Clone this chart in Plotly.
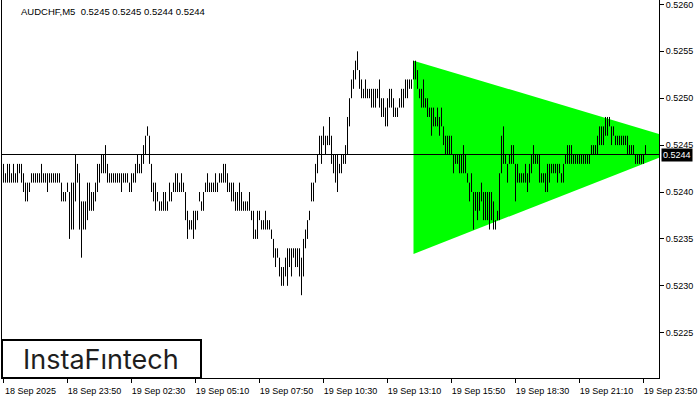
import pandas as pd
import plotly.graph_objects as go

# ---------------- data ----------------
header_text = "AUDCHF,M5  0.5245 0.5245 0.5244 0.5244"
bar_start = "2025-09-18 21:10"
bar_freq = "5min"

# bar highs / lows, in units of 0.0001 (5243 -> 0.5243)
high_pts = [
    5243, 5242, 5243, 5243, 5242, 5243, 5242, 5243, 5243, 5243,
    5242, 5241, 5241, 5241, 5242, 5242, 5242, 5242, 5242, 5243,
    5242, 5242, 5242, 5242, 5242, 5242, 5242, 5242, 5242, 5241,
    5240, 5240, 5241, 5240, 5241, 5241, 5244, 5243, 5242, 5239,
    5239, 5239, 5241, 5241, 5240, 5240, 5241, 5243, 5243, 5244,
    5244, 5245, 5243, 5242, 5242, 5242, 5242, 5242, 5242, 5242,
    5242, 5242, 5242, 5241, 5242, 5242, 5243, 5244, 5243, 5244,
    5245, 5246, 5247, 5246, 5243, 5241, 5241, 5240, 5239, 5239,
    5240, 5240, 5239, 5241, 5240, 5241, 5242, 5242, 5241, 5242,
    5241, 5240, 5238, 5237, 5237, 5238, 5238, 5238, 5240, 5239,
    5240, 5241, 5242, 5241, 5241, 5241, 5242, 5241, 5242, 5242,
    5243, 5243, 5242, 5241, 5241, 5241, 5240, 5240, 5241, 5240,
    5239, 5239, 5239, 5240, 5238, 5238, 5236, 5238, 5238, 5237,
    5237, 5238, 5237, 5237, 5236, 5235, 5234, 5234, 5233, 5232,
    5232, 5233, 5234, 5234, 5234, 5234, 5234, 5234, 5234, 5233,
    5235, 5236, 5237, 5238, 5241, 5241, 5243, 5244, 5246, 5246,
    5247, 5246, 5246, 5248, 5246, 5244, 5244, 5244, 5243, 5244,
    5244, 5245, 5248, 5250, 5252, 5253, 5254, 5255, 5253, 5252,
    5251, 5252, 5251, 5251, 5251, 5251, 5251, 5251, 5252, 5250,
    5250, 5249, 5250, 5251, 5251, 5250, 5249, 5249, 5250, 5251,
    5251, 5252, 5252, 5252, 5252, 5254, 5254, 5253, 5251, 5251,
    5252, 5250, 5250, 5249, 5249, 5249, 5248, 5249, 5248, 5249,
    5247, 5246, 5246, 5246, 5246, 5244, 5244, 5244, 5244, 5244,
    5245, 5244, 5242, 5241, 5242, 5240, 5240, 5240, 5240, 5241,
    5240, 5240, 5240, 5240, 5240, 5239, 5237, 5238, 5242, 5246,
    5247, 5244, 5243, 5244, 5245, 5245, 5243, 5243, 5242, 5242,
    5242, 5243, 5242, 5243, 5244, 5245, 5244, 5244, 5244, 5242,
    5242, 5242, 5243, 5243, 5243, 5243, 5243, 5243, 5243, 5242,
    5243, 5244, 5245, 5245, 5245, 5244, 5244, 5244, 5244, 5244,
    5244, 5244, 5244, 5244, 5245, 5245, 5245, 5246, 5247, 5247,
    5247, 5248, 5248, 5248, 5247, 5247, 5246, 5246, 5246, 5246,
    5246, 5246, 5246, 5245, 5245, 5245, 5244, 5244, 5244, 5244,
    5244, 5245,
]
low_pts = [
    5241, 5241, 5241, 5241, 5241, 5241, 5241, 5241, 5242, 5241,
    5240, 5239, 5239, 5240, 5241, 5241, 5241, 5241, 5241, 5241,
    5241, 5241, 5240, 5241, 5241, 5241, 5241, 5241, 5241, 5239,
    5239, 5239, 5240, 5235, 5236, 5236, 5239, 5241, 5236, 5233,
    5236, 5236, 5237, 5238, 5238, 5238, 5239, 5240, 5241, 5242,
    5242, 5242, 5241, 5241, 5241, 5241, 5241, 5241, 5241, 5240,
    5241, 5241, 5241, 5240, 5240, 5241, 5241, 5242, 5242, 5242,
    5243, 5244, 5246, 5243, 5240, 5239, 5238, 5239, 5238, 5238,
    5238, 5238, 5238, 5239, 5239, 5240, 5240, 5240, 5240, 5240,
    5240, 5237, 5235, 5236, 5236, 5235, 5236, 5237, 5239, 5238,
    5238, 5240, 5240, 5240, 5240, 5240, 5240, 5240, 5241, 5241,
    5241, 5241, 5240, 5240, 5239, 5239, 5238, 5238, 5238, 5238,
    5238, 5238, 5238, 5238, 5237, 5235, 5235, 5235, 5237, 5236,
    5236, 5236, 5236, 5236, 5235, 5233, 5232, 5233, 5231, 5230,
    5230, 5231, 5230, 5232, 5231, 5233, 5232, 5232, 5231, 5229,
    5231, 5234, 5235, 5237, 5239, 5239, 5241, 5242, 5244, 5243,
    5245, 5244, 5245, 5245, 5243, 5242, 5241, 5240, 5242, 5242,
    5243, 5243, 5244, 5247, 5250, 5251, 5252, 5253, 5251, 5250,
    5250, 5250, 5250, 5250, 5249, 5249, 5249, 5250, 5249, 5248,
    5248, 5247, 5247, 5249, 5249, 5248, 5248, 5248, 5249, 5249,
    5249, 5250, 5250, 5251, 5251, 5252, 5252, 5251, 5250, 5249,
    5249, 5249, 5248, 5248, 5246, 5247, 5247, 5247, 5246, 5247,
    5245, 5244, 5244, 5244, 5244, 5242, 5243, 5243, 5242, 5242,
    5242, 5242, 5241, 5239, 5240, 5236, 5238, 5237, 5238, 5239,
    5237, 5237, 5237, 5236, 5237, 5236, 5236, 5237, 5237, 5242,
    5243, 5243, 5241, 5243, 5243, 5243, 5239, 5241, 5241, 5241,
    5241, 5241, 5240, 5241, 5242, 5243, 5243, 5243, 5241, 5241,
    5241, 5240, 5240, 5241, 5242, 5242, 5242, 5241, 5242, 5241,
    5241, 5243, 5243, 5243, 5243, 5243, 5243, 5243, 5243, 5243,
    5243, 5243, 5243, 5243, 5244, 5244, 5244, 5244, 5245, 5245,
    5245, 5246, 5246, 5247, 5245, 5246, 5245, 5245, 5245, 5245,
    5245, 5245, 5244, 5244, 5244, 5244, 5243, 5243, 5243, 5243,
    5243, 5244,
]

last_price = 0.5244
last_price_text = "0.5244"

# symmetrical triangle pattern (green)
tri_times = ["2025-09-19 14:15", "2025-09-20 01:55", "2025-09-19 14:15"]
tri_prices = [0.5254, 0.52451, 0.52334]

x_tick_times = [
    "2025-09-18 21:10", "2025-09-18 23:50", "2025-09-19 02:30",
    "2025-09-19 05:10", "2025-09-19 07:50", "2025-09-19 10:30",
    "2025-09-19 13:10", "2025-09-19 15:50", "2025-09-19 18:30",
    "2025-09-19 21:10", "2025-09-19 23:50",
]
x_tick_text = [
    "18 Sep 2025", "18 Sep 23:50", "19 Sep 02:30", "19 Sep 05:10",
    "19 Sep 07:50", "19 Sep 10:30", "19 Sep 13:10", "19 Sep 15:50",
    "19 Sep 18:30", "19 Sep 21:10", "19 Sep 23:50",
]
y_tick_vals = [0.5225, 0.5230, 0.5235, 0.5240, 0.5245, 0.5250, 0.5255, 0.5260]
logo_text = "InstaF\u0131ntech"

# ---------------- build ----------------
times = pd.date_range(bar_start, periods=len(high_pts), freq=bar_freq)
highs = [p / 10000 for p in high_pts]
lows = [p / 10000 for p in low_pts]

bx, by = [], []
for t, h, l in zip(times, highs, lows):
    bx += [t, t, None]
    by += [l, h, None]

FONT = "Liberation Sans"
fig = go.Figure()
fig.add_trace(go.Scatter(
    x=tri_times, y=tri_prices, fill="toself", fillcolor="#00FF00",
    mode="lines", line=dict(width=0, color="#00FF00"), hoverinfo="skip",
))
fig.add_trace(go.Scatter(
    x=bx, y=by, mode="lines", line=dict(color="black", width=1),
    hoverinfo="skip", connectgaps=False,
))

fig.add_shape(type="line", xref="paper", x0=0, x1=1, yref="y",
              y0=last_price, y1=last_price, line=dict(color="black", width=1))

# logo box
fig.add_shape(type="rect", xref="paper", yref="paper",
              x0=0, x1=(201 - 2) / 657, y0=0, y1=(378 - 340) / 378,
              line=dict(color="black", width=2), fillcolor="white", layer="above")
fig.add_annotation(text=logo_text, xref="paper", yref="paper",
                   x=(101 - 2) / 657, y=(378 - 359) / 378, showarrow=False,
                   xanchor="center", yanchor="middle",
                   font=dict(family="Inter", size=27, color="#1e1e1e"))

fig.add_annotation(text=header_text, xref="paper", yref="paper",
                   x=(19 - 2) / 657, y=1, xanchor="left", yanchor="top",
                   yshift=-4, showarrow=False,
                   font=dict(family=FONT, size=9.5, color="black"))

fig.add_annotation(text=last_price_text, xref="paper", yref="y",
                   x=1, y=last_price, xanchor="left", yanchor="middle",
                   xshift=2, showarrow=False, bgcolor="black", borderpad=1,
                   font=dict(family=FONT, size=9, color="white"))

fig.update_layout(
    width=700, height=400,
    margin=dict(l=2, r=41, t=0, b=22),
    paper_bgcolor="white", plot_bgcolor="white",
    showlegend=False,
    font=dict(family=FONT, size=9, color="black"),
    xaxis=dict(
        type="date",
        range=["2025-09-18 21:06:15", "2025-09-20 00:28:45"],
        tickvals=x_tick_times, ticktext=x_tick_text,
        ticks="outside", ticklen=4, tickcolor="black", tickwidth=1,
        showline=True, linecolor="black", linewidth=1,
        showgrid=False, zeroline=False, ticklabelshift=27,
        ticklabeloverflow="allow",
        tickfont=dict(family=FONT, size=9, color="black"),
        automargin=False, fixedrange=True,
    ),
    yaxis=dict(
        side="right",
        range=[0.52201727, 0.52604712],
        tickvals=y_tick_vals, ticktext=[f"{v:.4f}" for v in y_tick_vals],
        ticks="outside", ticklen=4, tickcolor="black", tickwidth=1,
        showline=True, mirror=True, linecolor="black", linewidth=1,
        showgrid=False, zeroline=False, ticklabeloverflow="allow",
        tickfont=dict(family=FONT, size=9, color="black"),
        automargin=False, fixedrange=True,
    ),
)

fig.write_html(
    "out.html",
    config={"displayModeBar": False},
    post_script="document.body.style.margin='0';document.body.style.overflow='hidden';",
)
